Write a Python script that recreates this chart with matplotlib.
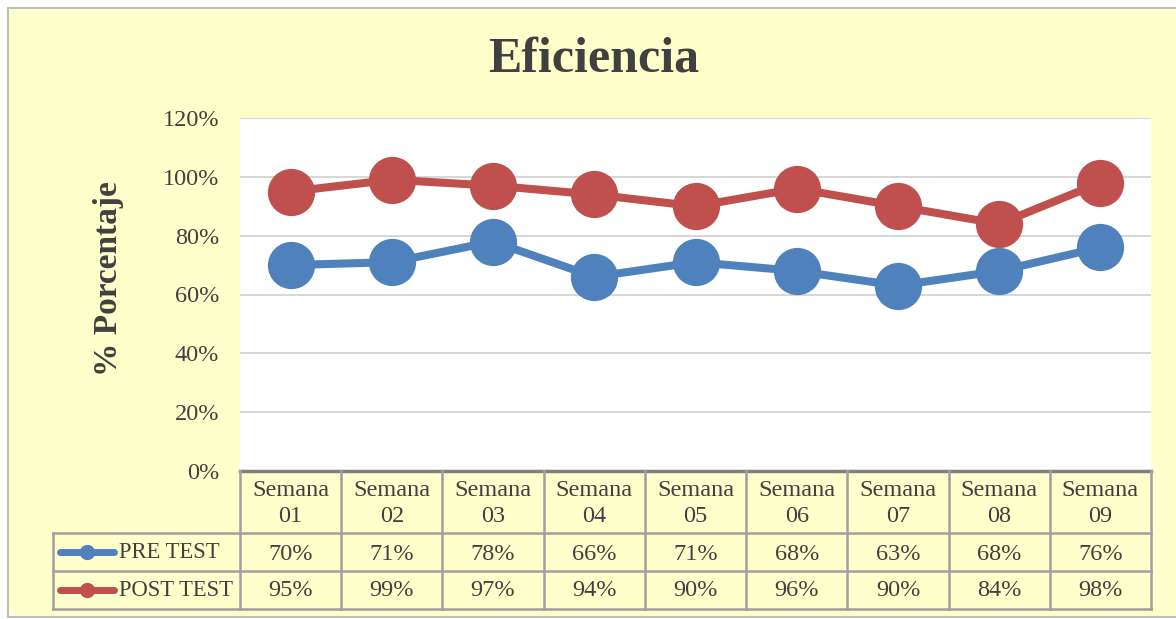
import matplotlib
matplotlib.use("Agg")
import matplotlib.pyplot as plt
from matplotlib.lines import Line2D
from matplotlib.patches import Rectangle

categories = ["Semana\n01", "Semana\n02", "Semana\n03", "Semana\n04", "Semana\n05",
              "Semana\n06", "Semana\n07", "Semana\n08", "Semana\n09"]
pre_test = [70, 71, 78, 66, 71, 68, 63, 68, 76]
post_test = [95, 99, 97, 94, 90, 96, 90, 84, 98]
series_names = ["PRE TEST", "POST TEST"]
yticks = [0, 20, 40, 60, 80, 100, 120]

W, H = 1176, 619
BG = "#FFFFCC"
BLUE = "#4F81BD"
RED = "#C0504D"
TXT = "#404040"
FONT = "Liberation Serif"
FS = 17.5

fig = plt.figure(figsize=(W / 100, H / 100), dpi=100)
fig.patch.set_facecolor("white")

def fx(px):
    return px / W

def fy(py):
    return 1 - py / H

# outer chart area
bgrect = Rectangle((fx(8), fy(617)), fx(1176 - 8 + 5), 609 / H,
                   transform=fig.transFigure, facecolor=BG,
                   edgecolor="#BFBFBF", linewidth=1.5, zorder=-10)
fig.add_artist(bgrect)

left, right, top, bottom = 240, 1151, 118, 471
ax = fig.add_axes([fx(left), fy(bottom), fx(right - left), (bottom - top) / H])
ax.set_zorder(1)
ax.set_facecolor("white")
x = list(range(len(categories)))
ax.plot(x, pre_test, color=BLUE, lw=5.8, marker="o", ms=33, solid_capstyle="round", zorder=3)
ax.plot(x, post_test, color=RED, lw=5.8, marker="o", ms=33, solid_capstyle="round", zorder=3)
ax.set_xlim(-0.5, len(categories) - 0.5)
ax.set_ylim(0, 120)
ax.set_yticks(yticks)
ax.set_yticklabels([f"{v}%" for v in yticks], fontsize=FS, color=TXT, family=FONT)
ax.tick_params(axis="y", length=0, pad=15)
ax.set_xticks([])
ax.grid(axis="y", color="#D0D0D0", lw=1.2)
ax.set_axisbelow(True)
for s in ["left", "right", "top"]:
    ax.spines[s].set_visible(False)
ax.spines["bottom"].set_color("#808080")
ax.spines["bottom"].set_linewidth(2.5)

# title and y label
fig.text(fx(594), fy(59), "Eficiencia", ha="center", va="center", fontsize=36,
         fontweight="bold", color=TXT, family=FONT)
fig.text(fx(108), fy(279), "% Porcentaje", ha="center", va="center", rotation=90,
         fontsize=24, fontweight="bold", color=TXT, family=FONT)

# data table
col_w = (right - left) / len(categories)
lc = "#A0A0A0"
lw = 1.8
def hline(y, x0, x1):
    fig.add_artist(Line2D([fx(x0), fx(x1)], [fy(y), fy(y)], color=lc, lw=lw, zorder=2))
def vline(xp, y0, y1):
    fig.add_artist(Line2D([fx(xp), fx(xp)], [fy(y0), fy(y1)], color=lc, lw=lw, zorder=2))

hline(533, 53, right)
hline(571, 53, right)
hline(609, 53, right)
vline(53, 533, 609)
for i in range(len(categories) + 1):
    vline(left + i * col_w, 471, 609)

for i, c in enumerate(categories):
    cx = left + (i + 0.5) * col_w
    l1, l2 = c.split("\n")
    fig.text(fx(cx), fy(490), l1, ha="center", va="center", fontsize=FS, color=TXT, family=FONT)
    fig.text(fx(cx), fy(517), l2, ha="center", va="center", fontsize=FS, color=TXT, family=FONT)
    fig.text(fx(cx), fy(554), f"{pre_test[i]}%", ha="center", va="center", fontsize=FS, color=TXT, family=FONT)
    fig.text(fx(cx), fy(591), f"{post_test[i]}%", ha="center", va="center", fontsize=FS, color=TXT, family=FONT)

for name, color, ry in [(series_names[0], BLUE, 552), (series_names[1], RED, 590)]:
    fig.add_artist(Line2D([fx(60), fx(114)], [fy(ry), fy(ry)], color=color, lw=5,
                          solid_capstyle="round", zorder=2))
    fig.add_artist(Line2D([fx(87)], [fy(ry)], color=color, marker="o", ms=10, lw=0, zorder=2))
    fig.text(fx(119), fy(ry), name, ha="left", va="center", fontsize=16.3, color=TXT, family=FONT)

fig.savefig("out.png", dpi=100, facecolor=fig.get_facecolor())
